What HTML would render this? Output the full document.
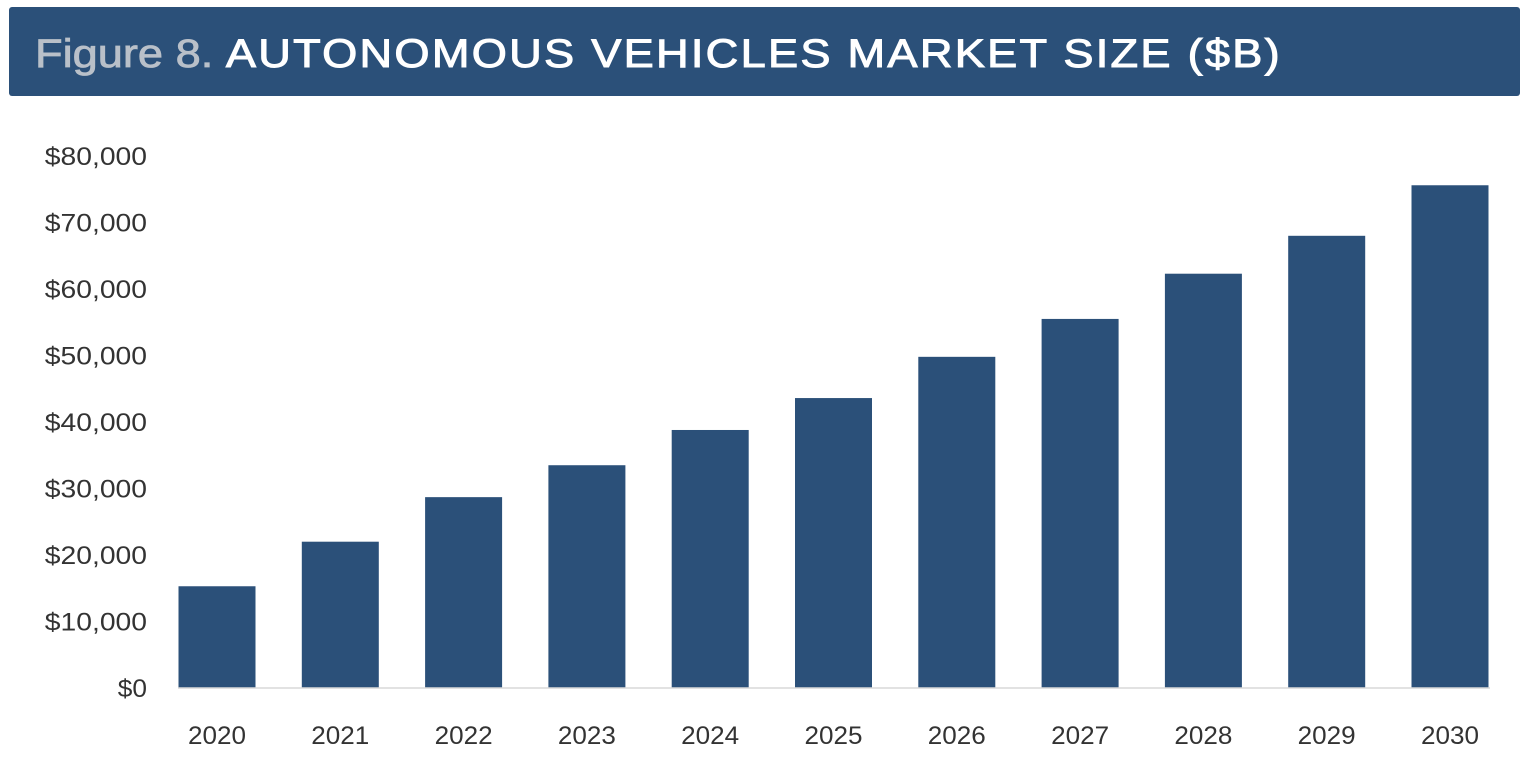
<!DOCTYPE html>
<html><head><meta charset="utf-8"><style>
html,body{margin:0;padding:0;background:#fff;}
svg{display:block;font-family:"Liberation Sans",sans-serif;}
</style></head><body>
<svg id="chart" width="1528" height="780" viewBox="0 0 1528 780">
  <rect x="9" y="7" width="1511" height="89" rx="3" fill="#2b5079"/>
  <text x="35" y="67" font-size="40" textLength="1247" lengthAdjust="spacingAndGlyphs"><tspan fill="#b9c0c9" stroke="#b9c0c9" stroke-width="0.8">Figure 8. </tspan><tspan fill="#ffffff" stroke="#ffffff" stroke-width="1" letter-spacing="2">AUTONOMOUS VEHICLES MARKET SIZE ($B)</tspan></text>
  <g id="yaxis"></g>
  <g id="bars"></g>
  <line x1="178" y1="688" x2="1490" y2="688" stroke="#d9d9d9" stroke-width="1.5"/>
  <g id="xaxis"></g>
</svg>
<script>
const categories = ["2020","2021","2022","2023","2024","2025","2026","2027","2028","2029","2030"];
const values = [15300, 22000, 28700, 33500, 38800, 43600, 49800, 55500, 62300, 68000, 75600];
const yTicks = [0,10000,20000,30000,40000,50000,60000,70000,80000];
const yTickLabels = ["$0","$10,000","$20,000","$30,000","$40,000","$50,000","$60,000","$70,000","$80,000"];

const NS="http://www.w3.org/2000/svg";
const y0=688, y1=156, vmax=80000;
const yScale=v=>y0-(v/vmax)*(y0-y1);
const firstC=217, lastC=1450;
const step=(lastC-firstC)/(categories.length-1);
const xScale=i=>firstC+i*step;
const bw=77;

const ya=document.getElementById('yaxis');
yTicks.forEach((t,i)=>{
  const tx=document.createElementNS(NS,'text');
  
  
  tx.setAttribute('x',147);tx.setAttribute('y',yScale(t)+9);
  tx.setAttribute('text-anchor','end');tx.setAttribute('font-size','25');tx.setAttribute('fill','#333');
  const lab=yTickLabels[i];
  tx.setAttribute('textLength', (lab.length*14.6).toFixed(1));
  tx.setAttribute('lengthAdjust','spacingAndGlyphs');
  tx.textContent=lab;ya.appendChild(tx);
});
const bg=document.getElementById('bars'), xa=document.getElementById('xaxis');
categories.forEach((c,i)=>{
  const r=document.createElementNS(NS,'rect');
  
  
  r.setAttribute('x',xScale(i)-bw/2);r.setAttribute('width',bw);
  r.setAttribute('y',yScale(values[i]));r.setAttribute('height',y0-yScale(values[i]));
  r.setAttribute('fill','#2b5079');bg.appendChild(r);
  const tx=document.createElementNS(NS,'text');
  
  
  tx.setAttribute('x',xScale(i));tx.setAttribute('y',744);
  tx.setAttribute('text-anchor','middle');tx.setAttribute('font-size','25');tx.setAttribute('fill','#333');
  tx.setAttribute('textLength','58');tx.setAttribute('lengthAdjust','spacingAndGlyphs');
  tx.textContent=c;xa.appendChild(tx);
});
</script>
</body></html>
